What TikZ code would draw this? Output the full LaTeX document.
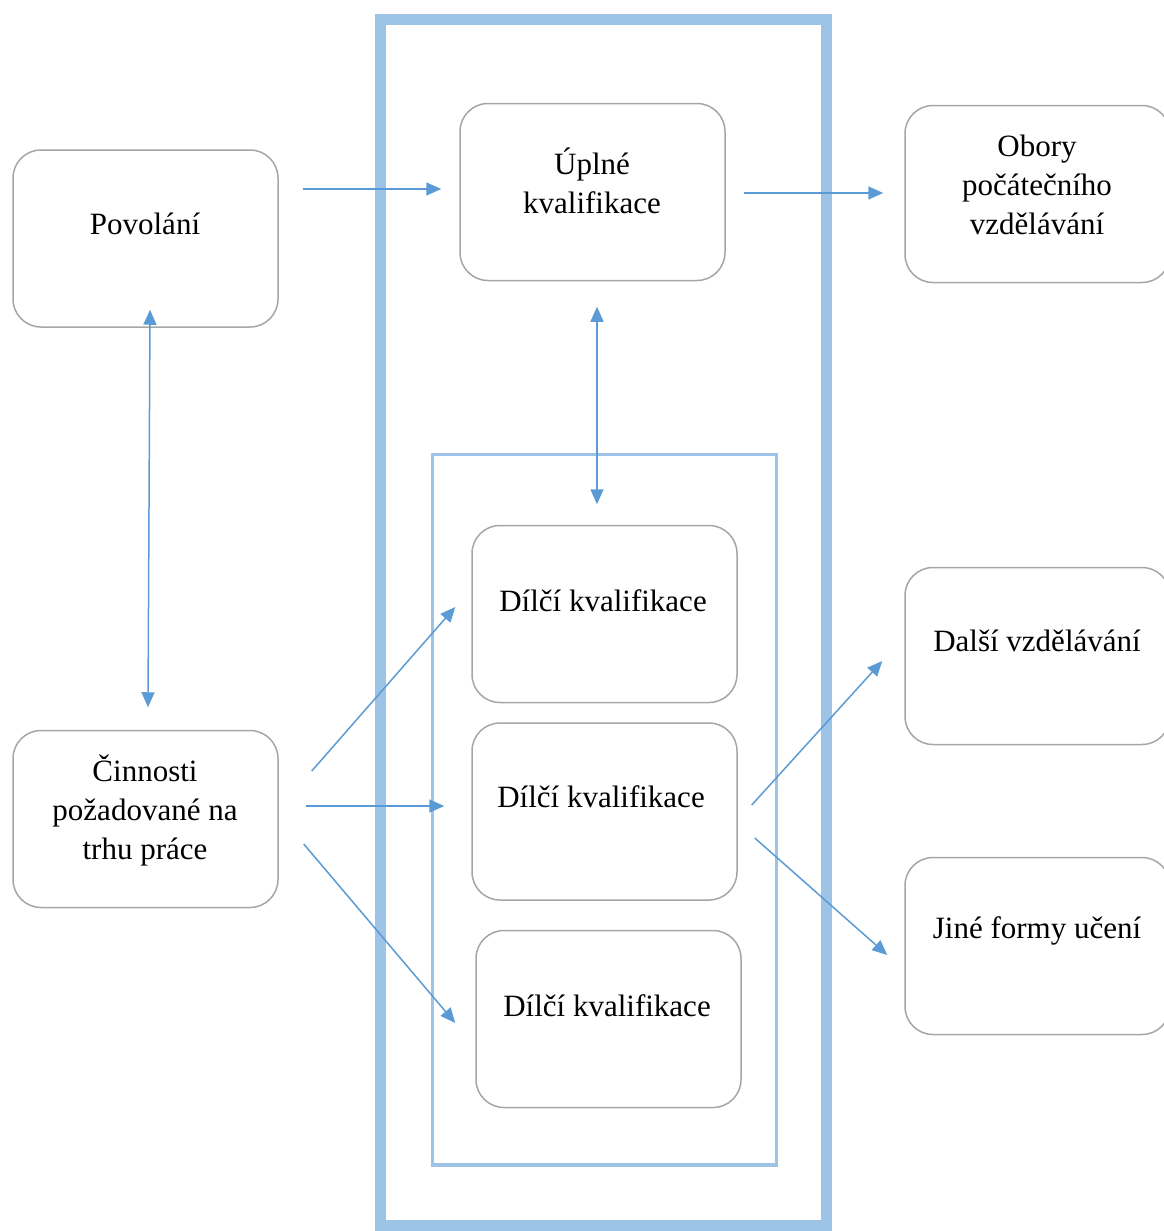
\documentclass[tikz,border=0pt]{standalone}
\usepackage{fontspec}
\setmainfont{Liberation Serif}
\usetikzlibrary{calc,arrows.meta}
\definecolor{frameblue}{HTML}{9DC3E6}
\definecolor{arrowblue}{HTML}{5B9BD5}
\definecolor{boxgray}{HTML}{A6A6A6}
\tikzset{
  box/.style={draw=boxgray, line width=1.5pt, rounded corners=28pt, minimum width=265pt, minimum height=177pt, inner sep=0pt, fill=white},
  txt/.style={align=center, inner sep=0pt, font=\fontsize{31}{39}\selectfont},
  arr/.style={draw=arrowblue, line width=1.5pt, -{Triangle[length=15pt,width=13pt]}},
  darr/.style={draw=arrowblue, line width=1.5pt, {Triangle[length=15pt,width=13pt]}-{Triangle[length=15pt,width=13pt]}},
  outerframe/.style={draw=frameblue, line width=11pt, inner sep=0pt},
  innerframe/.style={draw=frameblue, line width=3.5pt, inner sep=0pt}
}
\begin{document}
\begin{tikzpicture}[x=1pt,y=-1pt]
\useasboundingbox (0,0) rectangle (1164,1231);
% frames
\node[outerframe, minimum width=446pt, minimum height=1206pt] (outer) at (603.5,622.5) {};
\node[innerframe, minimum width=344pt, minimum height=710.5pt] (inner) at (604.5,809.75) {};
% boxes
\node[box] (pov) at (145.5,238.5) {};
\node[box] (cin) at (145.5,819) {};
\node[box] (upl) at (592.5,192) {};
\node[box] (obo) at (1037.5,194) {};
\node[box] (d1) at (604.5,614) {};
\node[box] (d2) at (604.5,811.5) {};
\node[box] (d3) at (608.5,1019) {};
\node[box] (dal) at (1037.5,656) {};
\node[box] (jin) at (1037.5,946) {};
% texts
\node[txt] (tpov) at (145,224) {Povolání};
\node[txt] (tcin) at (145,810) {Činnosti\\požadované na\\trhu práce};
\node[txt] (tupl) at (592,180.5) {Úplné\\kvalifikace};
\node[txt] (tobo) at (1037,185) {Obory\\počátečního\\vzdělávání};
\node[txt] (td1) at (603,601) {Dílčí kvalifikace};
\node[txt] (td2) at (601,797) {Dílčí kvalifikace};
\node[txt] (td3) at (607,1006) {Dílčí kvalifikace};
\node[txt] (tdal) at (1037,641) {Další vzdělávání};
\node[txt] (tjin) at (1037,931) {Jiné formy učení};
% connectors
\draw[arr] ($(pov.east)+(24,-49.5)$) -- ($(upl.west)+(-18,-3)$);
\draw[arr] ($(upl.east)+(18,1)$) -- ($(obo.west)+(-21,-1)$);
\draw[darr] ($(pov.south)+(4.5,-18)$) -- ($(cin.north)+(2.5,-22.5)$);
\draw[darr] ($(upl.south)+(4.5,25.5)$) -- ($(d1.north)+(-7.5,-20.5)$);
\draw[arr] ($(cin.east)+(33,-48)$) -- ($(d1.west)+(-16,-7)$);
\draw[arr] ($(cin.east)+(27,-13)$) -- ($(d2.west)+(-27,-5.5)$);
\draw[arr] ($(cin.east)+(25,25)$) -- ($(d3.west)+(-20,4)$);
\draw[arr] ($(d2.east)+(14,-6.5)$) -- ($(dal.west)+(-22,5)$);
\draw[arr] ($(d2.east)+(17,26.5)$) -- ($(jin.west)+(-17,9)$);
\end{tikzpicture}
\end{document}
